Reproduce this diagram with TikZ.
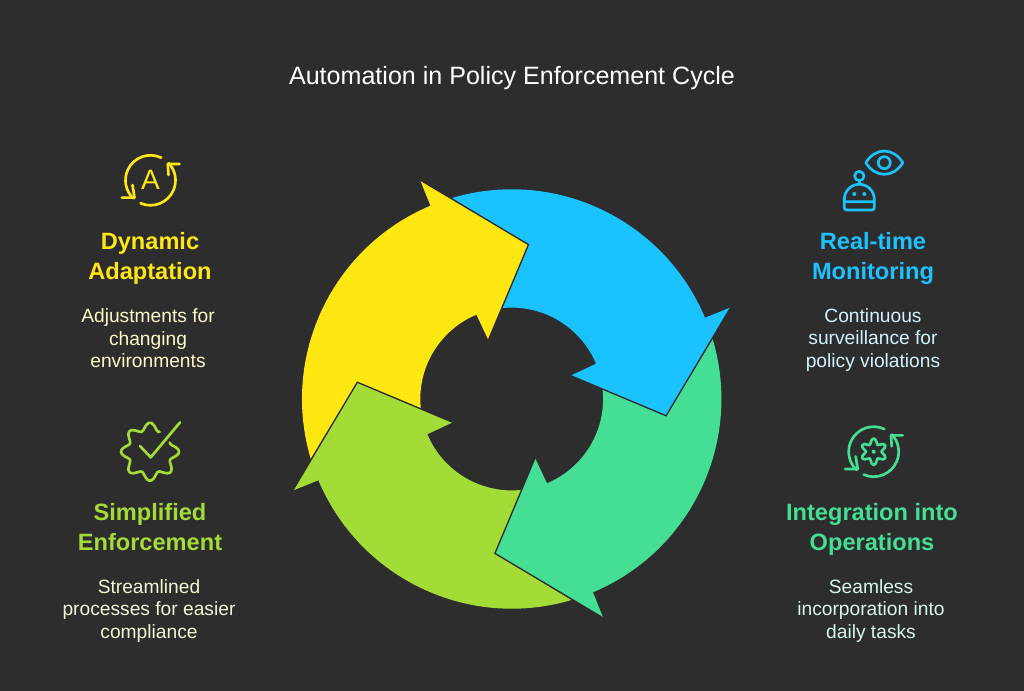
\documentclass[tikz,border=0pt]{standalone}
\usepackage{fontspec}
\setmainfont{Liberation Sans}
\usepackage{xcolor}
\definecolor{bgdark}{HTML}{2D2D2D}
\definecolor{cycleblue}{HTML}{1AC3FF}
\definecolor{cycleyellow}{HTML}{FFE711}
\definecolor{cyclelime}{HTML}{A3DB37}
\definecolor{cyclegreen}{HTML}{44DF95}
\definecolor{textyellow}{HTML}{FFF8C9}
\definecolor{textblue}{HTML}{D1F3FF}
\definecolor{textlime}{HTML}{EDF8D3}
\definecolor{textgreen}{HTML}{D5F7E6}
\tikzset{
  headline/.style={align=center, font=\fontsize{17.7}{22.5}\selectfont\bfseries},
  blurb/.style={align=center, font=\fontsize{14.4}{16.9}\selectfont},
  iconline/.style={line width=2pt, line cap=round, line join=round},
}
% two arcs with arrow heads, round an icon
\newcommand{\turnarrows}[1]{
\draw[iconline, #1] (64.8:25) arc[start angle=64.8, end angle=226.7, radius=25];
\draw[iconline, #1] (-28.7,-17.3)--(-16,-17.3)--(-18,-4.7);
\draw[iconline, #1] (246.6:25) arc[start angle=246.6, end angle=403.3, radius=25];
\draw[iconline, #1] (29,16.3)--(17.3,16.3)--(18,5.3);
}

\begin{document}
\begin{tikzpicture}[x=0.75pt, y=0.75pt]
\useasboundingbox (0,0) rectangle (1024,691);
\fill[bgdark] (0,0) rectangle (1024,691);

\node[text=white, font=\fontsize{18.8}{22}\selectfont] (cycletitle) at (512,613) {Automation in Policy Enforcement Cycle};

% the ring
\foreach \turn/\shade in {0/cycleblue, 90/cycleyellow, 180/cyclelime, 270/cyclegreen}{
\begin{scope}[shift={(511.7,292)}, rotate=\turn]
\fill[\shade] (106.6:209.7) arc[start angle=106.6, end angle=22.8, radius=209.7]
  -- (22.7:237.4) -- (-6.2:155.3) -- (21.6:63.4) -- (22.7:91.4)
  arc[start angle=22.7, end angle=96, radius=91.4] -- (83.8:155.3) -- cycle;
\end{scope}
}
\foreach \turn in {0,90,180,270}{
\begin{scope}[shift={(511.7,292)}, rotate=\turn]
\draw[bgdark, line width=1pt, line join=miter] (22.7:237.4) -- (-6.2:155.3) -- (21.6:63.4);
\end{scope}
}

% top left
\begin{scope}[shift={(150.5,510.7)}]
\turnarrows{cycleyellow}
\node[text=cycleyellow, font=\fontsize{21}{24}\selectfont] (letterA) at (0,0) {A};
\end{scope}
\node[headline, text=cycleyellow] (adaptationhead) at (150,433) {Dynamic\\Adaptation};
\node[blurb, text=textyellow] (adaptationtext) at (148,352.5) {Adjustments for\\changing\\environments};

% top right
\begin{scope}[shift={(884.3,528.3)}]
\draw[iconline, cycleblue] (-18.5,0) .. controls (-9,15.5) and (9,15.5) .. (18.5,0) .. controls (9,-15.5) and (-9,-15.5) .. (-18.5,0);
\draw[iconline, cycleblue] (0,0) circle (6);
\end{scope}
\begin{scope}[shift={(859.3,489.3)}]
\draw[iconline, cycleblue] (-15,0) -- (15,0) -- (15,2.4) arc[start angle=0, end angle=180, radius=15] -- (-15,-6)
  arc[start angle=180, end angle=270, radius=2.3] -- (12.7,-8.3) arc[start angle=270, end angle=360, radius=2.3] -- (15,0);
\draw[iconline, cycleblue] (-15,0) -- (-15,2.4);
\draw[iconline, cycleblue] (0,17.4) -- (0,21);
\draw[iconline, cycleblue] (0,25.7) circle (4.7);
\fill[cycleblue] (-5,7.7) circle (2) (5,7.7) circle (2);
\end{scope}
\node[headline, text=cycleblue] (monitoringhead) at (873,433) {Real-time\\Monitoring};
\node[blurb, text=textblue] (monitoringtext) at (873,351) {Continuous\\surveillance for\\policy violations};

% bottom left
\begin{scope}[shift={(150,239.3)}]
\draw[iconline, cyclelime] plot[smooth, domain=64:385, samples=81] (\x:{25.3+3.7*cos(8*\x)});
\draw[iconline, cyclelime] (-10,5.7)--(0.7,-5.7)--(30,29.3);
\end{scope}
\node[headline, text=cyclelime] (enforcementhead) at (150,163.5) {Simplified\\Enforcement};
\node[blurb, text=textlime] (enforcementtext) at (149,80) {Streamlined\\processes for easier\\compliance};

% bottom right
\begin{scope}[shift={(873.7,239.3)}]
\turnarrows{cyclegreen}
\draw[iconline, cyclegreen] plot[smooth cycle, domain=0:350, samples=36] (\x:{10.5+2.8*cos(6*(\x-90))});
\fill[cyclegreen] (0,0) circle (2);
\end{scope}
\node[headline, text=cyclegreen] (operationshead) at (872,161.5) {Integration into\\Operations};
\node[blurb, text=textgreen] (operationstext) at (871,80) {Seamless\\incorporation into\\daily tasks};
\end{tikzpicture}
\end{document}
